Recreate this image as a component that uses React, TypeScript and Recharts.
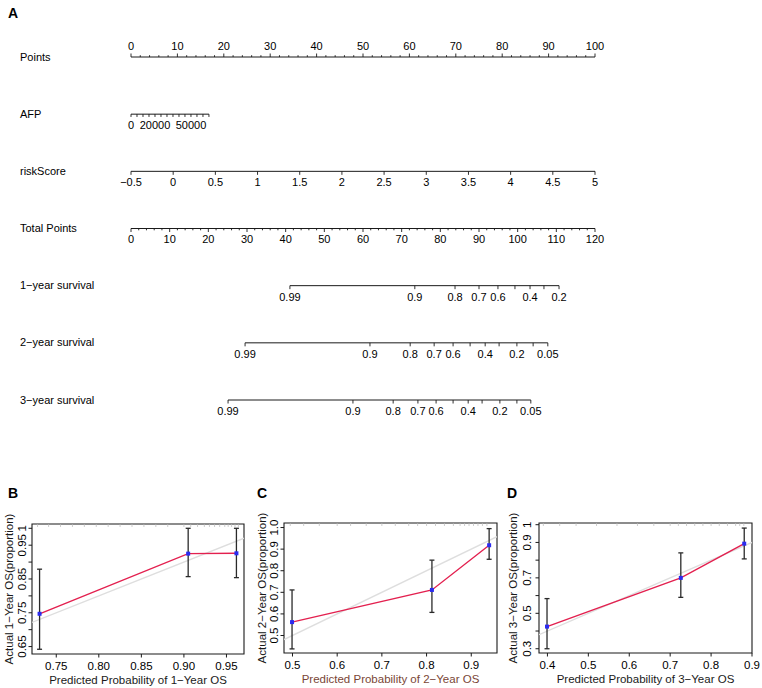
import React from "react";
import {
  ComposedChart, Scatter, Line, XAxis, YAxis,
  ReferenceLine, ReferenceArea, ErrorBar,
} from "recharts";

const FONT = "'Liberation Sans', Arial, Helvetica, sans-serif";
const INK = "#1a1a1a";

// ---------- panel A: nomogram ----------
const ROW_NAMES = [
  "Points", "AFP", "riskScore", "Total Points",
  "1\u2212year survival", "2\u2212year survival", "3\u2212year survival",
];

const POINT_MAJOR = [0, 10, 20, 30, 40, 50, 60, 70, 80, 90, 100];
const POINT_MINOR = [
  2, 4, 6, 8, 12, 14, 16, 18, 22, 24, 26, 28, 32, 34, 36, 38, 42, 44, 46, 48,
  52, 54, 56, 58, 62, 64, 66, 68, 72, 74, 76, 78, 82, 84, 86, 88, 92, 94, 96, 98,
];

const AFP_TICKS = [0, 5000, 10000, 15000, 20000, 25000, 30000, 35000, 40000, 45000, 50000, 55000, 60000, 65000];
const AFP_LABELS = ["0", "", "", "", "20000", "", "", "", "", "", "50000", "", "", ""];
const AFP_MAX = 65000;
const AFP_MAX_POINTS = 16.8; // points given to AFP = 65000

const RISK_TICKS = [-0.5, 0, 0.5, 1, 1.5, 2, 2.5, 3, 3.5, 4, 4.5, 5];
const RISK_LABELS = ["\u22120.5", "0", "0.5", "1", "1.5", "2", "2.5", "3", "3.5", "4", "4.5", "5"];

const TOTAL_MAJOR = [0, 10, 20, 30, 40, 50, 60, 70, 80, 90, 100, 110, 120];
const TOTAL_MINOR = [
  2, 4, 6, 8, 12, 14, 16, 18, 22, 24, 26, 28, 32, 34, 36, 38, 42, 44, 46, 48,
  52, 54, 56, 58, 62, 64, 66, 68, 72, 74, 76, 78, 82, 84, 86, 88, 92, 94, 96, 98,
  102, 104, 106, 108, 112, 114, 116, 118,
];

// survival probability ticks, placed on the total-points scale
const SURV1_TP = [41.1, 73.4, 83.8, 90.0, 94.9, 99.3, 103.2, 106.8, 110.7];
const SURV1_LABELS = ["0.99", "0.9", "0.8", "0.7", "0.6", "", "0.4", "", "0.2"];
const SURV2_TP = [29.5, 61.8, 72.2, 78.4, 83.3, 87.7, 91.6, 95.2, 99.8, 104.0, 107.8];
const SURV2_LABELS = ["0.99", "0.9", "0.8", "0.7", "0.6", "", "0.4", "", "0.2", "", "0.05"];
const SURV3_TP = [25.1, 57.4, 67.8, 74.2, 78.9, 83.3, 87.2, 90.8, 95.4, 99.8, 103.4];
const SURV3_LABELS = ["0.99", "0.9", "0.8", "0.7", "0.6", "", "0.4", "", "0.2", "", "0.05"];

// ---------- panels B, C, D: calibration ----------
const B_X = [0.7304, 0.905, 0.9617];
const B_Y = [0.747, 0.925, 0.926];
const B_LO = [0.642, 0.857, 0.854];
const B_HI = [0.879, 1.0, 1.0];
const B_RUG = [
  0.728, 0.741, 0.755, 0.769, 0.783, 0.797, 0.811, 0.825, 0.839, 0.853, 0.867, 0.881,
  0.9, 0.908, 0.916, 0.924, 0.93, 0.936, 0.942, 0.948, 0.952, 0.956, 0.96, 0.964,
];
const B_X_TICKS = [0.75, 0.8, 0.85, 0.9, 0.95];
const B_X_LABELS = ["0.75", "0.80", "0.85", "0.90", "0.95"];
const B_Y_TICKS = [0.65, 0.7, 0.75, 0.8, 0.85, 0.9, 0.95, 1.0];
const B_Y_LABELS = ["0.65", "", "0.75", "", "0.85", "", "0.95", "1"];

const C_X = [0.499, 0.812, 0.94];
const C_Y = [0.562, 0.711, 0.918];
const C_LO = [0.438, 0.607, 0.853];
const C_HI = [0.711, 0.849, 0.995];
const C_RUG = [
  0.495, 0.525, 0.56, 0.6, 0.63, 0.665, 0.7, 0.73, 0.76, 0.78, 0.8, 0.82, 0.84,
  0.86, 0.875, 0.885, 0.895, 0.905, 0.915, 0.925, 0.935,
];
const C_X_TICKS = [0.5, 0.6, 0.7, 0.8, 0.9];
const C_X_LABELS = ["0.5", "0.6", "0.7", "0.8", "0.9"];
const C_Y_TICKS = [0.5, 0.6, 0.7, 0.8, 0.9, 1.0];
const C_Y_LABELS = ["0.5", "0.6", "0.7", "0.8", "0.9", "1.0"];

const D_X = [0.399, 0.726, 0.881];
const D_Y = [0.425, 0.7, 0.893];
const D_LO = [0.3, 0.59, 0.807];
const D_HI = [0.583, 0.841, 0.981];
const D_RUG = [
  0.39, 0.43, 0.47, 0.52, 0.57, 0.62, 0.66, 0.7, 0.72, 0.74, 0.76, 0.78, 0.8, 0.82,
  0.84, 0.86, 0.87, 0.88,
];
const D_X_TICKS = [0.4, 0.5, 0.6, 0.7, 0.8, 0.9];
const D_X_LABELS = ["0.4", "0.5", "0.6", "0.7", "0.8", "0.9"];
const D_Y_TICKS = [0.3, 0.4, 0.5, 0.6, 0.7, 0.8, 0.9, 1.0];
const D_Y_LABELS = ["0.3", "", "0.5", "", "0.7", "", "0.9", "1"];

type NomoTick = { x: number; y: number; label: string; major: boolean };

const majors = (vals: number[], row: number, labels?: string[]): NomoTick[] =>
  vals.map((v, i) => ({ x: v, y: row, label: labels ? labels[i] : String(v), major: true }));
const minors = (vals: number[], row: number): NomoTick[] =>
  vals.map((v) => ({ x: v, y: row, label: "", major: false }));

// tick mark + label drawn at the scatter position
const tickShape = (dir: number, labelDy: number, majorLen = 3.5, minorLen = 1.8) => (p: any) => {
  const { cx, cy, payload } = p;
  const len = payload.major ? majorLen : minorLen;
  return (
    <g>
      <line x1={cx} x2={cx} y1={cy} y2={cy + dir * len} stroke={INK} strokeWidth={0.9} />
      {payload.label ? (
        <text x={cx} y={cy + labelDy} textAnchor="middle" fontSize={11} fontFamily={FONT} fill="#000">
          {payload.label}
        </text>
      ) : null}
    </g>
  );
};

function Nomogram() {
  const pointsRow = [...majors(POINT_MAJOR, 0), ...minors(POINT_MINOR, 0)];
  const afpRow = AFP_TICKS.map((v, i) => ({
    x: (v / AFP_MAX) * AFP_MAX_POINTS, y: 1, label: AFP_LABELS[i], major: true,
  }));
  const riskRow = majors(RISK_TICKS, 2, RISK_LABELS);
  const totalRow = [...majors(TOTAL_MAJOR, 3), ...minors(TOTAL_MINOR, 3)];
  const surv1 = majors(SURV1_TP, 4, SURV1_LABELS);
  const surv2 = majors(SURV2_TP, 5, SURV2_LABELS);
  const surv3 = majors(SURV3_TP, 6, SURV3_LABELS);
  const axisLine = { stroke: INK, strokeWidth: 1, ifOverflow: "visible" as const };

  return (
    <ComposedChart width={762} height={430} margin={{ top: 57, right: 167, bottom: 30, left: 0 }}>
      <XAxis xAxisId="pts" type="number" dataKey="x" domain={[0, 100]} hide />
      <XAxis xAxisId="risk" type="number" dataKey="x" domain={[-0.5, 5]} hide />
      <XAxis xAxisId="tp" type="number" dataKey="x" domain={[0, 120]} hide />
      <YAxis
        type="number" dataKey="y" domain={[0, 6]} reversed width={131}
        ticks={[0, 1, 2, 3, 4, 5, 6]} interval={0} axisLine={false} tickLine={false}
        tick={(p: any) => (
          <text x={20} y={p.y} dy={3.5} fontSize={11} fontFamily={FONT} fill="#000">
            {ROW_NAMES[p.payload.value]}
          </text>
        )}
      />
      <ReferenceLine xAxisId="pts" segment={[{ x: 0, y: 0 }, { x: 100, y: 0 }]} {...axisLine} />
      <ReferenceLine xAxisId="pts" segment={[{ x: 0, y: 1 }, { x: AFP_MAX_POINTS, y: 1 }]} {...axisLine} />
      <ReferenceLine xAxisId="risk" segment={[{ x: -0.5, y: 2 }, { x: 5, y: 2 }]} {...axisLine} />
      <ReferenceLine xAxisId="tp" segment={[{ x: 0, y: 3 }, { x: 120, y: 3 }]} {...axisLine} />
      <ReferenceLine xAxisId="tp" segment={[{ x: SURV1_TP[0], y: 4 }, { x: SURV1_TP[SURV1_TP.length - 1], y: 4 }]} {...axisLine} />
      <ReferenceLine xAxisId="tp" segment={[{ x: SURV2_TP[0], y: 5 }, { x: SURV2_TP[SURV2_TP.length - 1], y: 5 }]} {...axisLine} />
      <ReferenceLine xAxisId="tp" segment={[{ x: SURV3_TP[0], y: 6 }, { x: SURV3_TP[SURV3_TP.length - 1], y: 6 }]} {...axisLine} />

      <Scatter xAxisId="pts" data={pointsRow} shape={tickShape(-1, -7.5)} isAnimationActive={false} />
      <Scatter xAxisId="pts" data={afpRow} shape={tickShape(1, 15, 2.8)} isAnimationActive={false} />
      <Scatter xAxisId="risk" data={riskRow} shape={tickShape(1, 15)} isAnimationActive={false} />
      <Scatter xAxisId="tp" data={totalRow} shape={tickShape(1, 14)} isAnimationActive={false} />
      <Scatter xAxisId="tp" data={surv1} shape={tickShape(1, 15)} isAnimationActive={false} />
      <Scatter xAxisId="tp" data={surv2} shape={tickShape(1, 15)} isAnimationActive={false} />
      <Scatter xAxisId="tp" data={surv3} shape={tickShape(1, 15)} isAnimationActive={false} />
    </ComposedChart>
  );
}

interface CalProps {
  left: number; width: number;
  xs: number[]; ys: number[]; los: number[]; his: number[]; rug: number[];
  xDomain: [number, number]; yDomain: [number, number];
  xTicks: number[]; xLabels: string[]; yTicks: number[]; yLabels: string[];
  xTitle: string; yTitle: string; xTitleColor?: string;
  yAxisW: number; top: number; right: number; xAxisH: number;
  yTickShift: number; yTitleOffset: number;
}

function CalPlot(p: CalProps) {
  const data = p.xs.map((x, i) => ({ x, y: p.ys[i], err: [p.ys[i] - p.los[i], p.his[i] - p.ys[i]] }));
  const rugData = p.rug.map((v) => ({ x: v, y: p.yDomain[1] }));
  const [x0, x1] = p.xDomain;
  const [y0, y1] = p.yDomain;

  return (
    <div style={{ position: "absolute", left: p.left, top: 470, width: p.width, height: 218 }}>
      <ComposedChart width={p.width} height={218} data={data}
        margin={{ top: p.top, right: p.right, bottom: 0, left: 0 }}>
        <XAxis
          type="number" dataKey="x" domain={p.xDomain} allowDataOverflow ticks={p.xTicks} interval={0}
          axisLine={false} tickLine={{ stroke: INK }} tickSize={3.5} height={p.xAxisH}
          tick={(t: any) => (
            <text x={t.x} y={t.y} dy={10.5} textAnchor="middle" fontSize={11.5} fontFamily={FONT} fill="#000">
              {p.xLabels[p.xTicks.indexOf(t.payload.value)]}
            </text>
          )}
          label={(l: any) => {
            const vb = l.viewBox;
            return (
              <text x={vb.x + vb.width / 2} y={vb.y + 30} textAnchor="middle" fontSize={11.5} fontFamily={FONT}
                fill={p.xTitleColor || "#1a1a1a"}>
                {p.xTitle}
              </text>
            );
          }}
        />
        <YAxis
          type="number" dataKey="y" domain={p.yDomain} allowDataOverflow ticks={p.yTicks} interval={0}
          axisLine={false} tickLine={{ stroke: INK }} tickSize={3.5} width={p.yAxisW}
          tick={(t: any) => {
            const bx = t.x - p.yTickShift;
            return (
              <text x={bx} y={t.y} transform={`rotate(-90 ${bx} ${t.y})`} textAnchor="middle"
                fontSize={11.5} fontFamily={FONT} fill="#000">
                {p.yLabels[p.yTicks.indexOf(t.payload.value)]}
              </text>
            );
          }}
          label={(l: any) => {
            const vb = l.viewBox;
            const bx = vb.x + vb.width - p.yTitleOffset;
            const cy = vb.y + vb.height / 2;
            return (
              <text x={bx} y={cy} transform={`rotate(-90 ${bx} ${cy})`} textAnchor="middle"
                fontSize={11.5} fontFamily={FONT} fill="#1a1a1a">
                {p.yTitle}
              </text>
            );
          }}
        />
        <ReferenceArea x1={x0} x2={x1} y1={y0} y2={y1} fill="none" fillOpacity={0} stroke={INK} strokeWidth={1.1} ifOverflow="visible" />
        <ReferenceLine segment={[{ x: x0, y: x0 }, { x: x1, y: x1 }]} stroke="#dedede" strokeWidth={1.4} ifOverflow="hidden" />
        <Scatter
          data={rugData} isAnimationActive={false}
          shape={(s: any) => <line x1={s.cx} x2={s.cx} y1={s.cy} y2={s.cy + 3} stroke="#b8b8b8" strokeWidth={0.7} />}
        />
        <Line
          dataKey="y" type="linear" stroke="#e3204f" strokeWidth={1.4} isAnimationActive={false}
          dot={(d: any) => <rect key={`d${d.index}`} x={d.cx - 2} y={d.cy - 2} width={4} height={4} fill="#2b2bf0" />}
        >
          <ErrorBar dataKey="err" direction="y" width={2.5} stroke="#2a2a2a" strokeWidth={1.3} />
        </Line>
      </ComposedChart>
    </div>
  );
}

const letter = (ch: string, left: number, top: number) => (
  <div style={{ position: "absolute", left, top, fontFamily: FONT, fontWeight: 700, fontSize: 14, lineHeight: "14px" }}>{ch}</div>
);

export default function App() {
  return (
    <div style={{ position: "fixed", left: 0, top: 0, width: 762, height: 688, background: "#fff", overflow: "hidden" }}>
      {letter("A", 8, 6)}
      {letter("B", 8, 486)}
      {letter("C", 257, 486)}
      {letter("D", 507, 486)}
      <div style={{ position: "absolute", left: 0, top: 0 }}>
        <Nomogram />
      </div>
      <CalPlot
        left={0} width={250} xs={B_X} ys={B_Y} los={B_LO} his={B_HI} rug={B_RUG}
        xDomain={[0.7215, 0.9706]} yDomain={[0.628, 1.0127]}
        xTicks={B_X_TICKS} xLabels={B_X_LABELS} yTicks={B_Y_TICKS} yLabels={B_Y_LABELS}
        xTitle={"Predicted Probability of 1\u2212Year OS"} yTitle={"Actual 1\u2212Year OS(proportion)"}
        yAxisW={32} top={54} right={6} xAxisH={34} yTickShift={0.5} yTitleOffset={19}
      />
      <CalPlot
        left={250} width={252} xs={C_X} ys={C_Y} los={C_LO} his={C_HI} rug={C_RUG}
        xDomain={[0.481, 0.9576]} yDomain={[0.419, 1.021]}
        xTicks={C_X_TICKS} xLabels={C_X_LABELS} yTicks={C_Y_TICKS} yLabels={C_Y_LABELS}
        xTitle={"Predicted Probability of 2\u2212Year OS"} yTitle={"Actual 2\u2212Year OS(proportion)"}
        xTitleColor="#7a4636"
        yAxisW={34} top={53} right={5} xAxisH={35} yTickShift={0.5} yTitleOffset={18}
      />
      <CalPlot
        left={502} width={260} xs={D_X} ys={D_Y} los={D_LO} his={D_HI} rug={D_RUG}
        xDomain={[0.3794, 0.9]} yDomain={[0.276, 1.0096]}
        xTicks={D_X_TICKS} xLabels={D_X_LABELS} yTicks={D_Y_TICKS} yLabels={D_Y_LABELS}
        xTitle={"Predicted Probability of 3\u2212Year OS"} yTitle={"Actual 3\u2212Year OS(proportion)"}
        yAxisW={37} top={53} right={10} xAxisH={35} yTickShift={2} yTitleOffset={22}
      />
    </div>
  );
}
